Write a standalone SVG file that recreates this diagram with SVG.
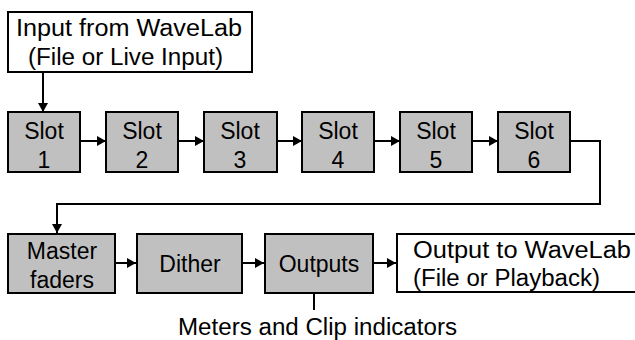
<svg xmlns="http://www.w3.org/2000/svg" width="635" height="340" viewBox="0 0 635 340">
  <style>
    .box { fill: #c0c0c0; stroke: #000; stroke-width: 2; }
    .io { fill: #fff; stroke: #000; stroke-width: 2; }
    .wire { fill: none; stroke: #000; stroke-width: 2; }
    text { font-family: "Liberation Sans", Arial, sans-serif; font-size: 23px; fill: #000; }
    .c { text-anchor: middle; }
  </style>
  <defs>
    <marker id="arrow" markerWidth="10" markerHeight="10" refX="9" refY="5" orient="auto" markerUnits="userSpaceOnUse">
      <path d="M0,0 L9,5 L0,10 Z" fill="#000"/>
    </marker>
  </defs>
  <rect width="635" height="340" fill="#fff"/>

  <!-- connectors -->
  <g id="connectors">
    <line class="wire" x1="43" y1="72" x2="43" y2="112" marker-end="url(#arrow)"/>
    <line class="wire" x1="80" y1="141" x2="106" y2="141" marker-end="url(#arrow)"/>
    <line class="wire" x1="178" y1="141" x2="204" y2="141" marker-end="url(#arrow)"/>
    <line class="wire" x1="277" y1="141" x2="302" y2="141" marker-end="url(#arrow)"/>
    <line class="wire" x1="374" y1="141" x2="400" y2="141" marker-end="url(#arrow)"/>
    <line class="wire" x1="472" y1="141" x2="498" y2="141" marker-end="url(#arrow)"/>
    <polyline class="wire" points="570,141 600,141 600,204 57,204 57,233" marker-end="url(#arrow)"/>
    <line class="wire" x1="115" y1="263" x2="136" y2="263" marker-end="url(#arrow)"/>
    <line class="wire" x1="242" y1="263" x2="264" y2="263" marker-end="url(#arrow)"/>
    <line class="wire" x1="373" y1="263" x2="396" y2="263" marker-end="url(#arrow)"/>
    <line class="wire" x1="314" y1="293" x2="314" y2="310"/>
  </g>

  <g id="input">
    <rect class="io" x="8" y="12" width="244" height="60"/>
    <text x="16" y="36" textLength="226" lengthAdjust="spacingAndGlyphs">Input from WaveLab</text>
    <text x="28" y="65" textLength="195" lengthAdjust="spacingAndGlyphs">(File or Live Input)</text>
  </g>

  <g id="slot1">
    <rect class="box" x="8" y="112" width="72" height="60"/>
    <text class="c" x="44" y="139">Slot</text>
    <text class="c" x="44" y="168">1</text>
  </g>
  <g id="slot2">
    <rect class="box" x="106" y="112" width="72" height="60"/>
    <text class="c" x="142" y="139">Slot</text>
    <text class="c" x="142" y="168">2</text>
  </g>
  <g id="slot3">
    <rect class="box" x="204" y="112" width="73" height="60"/>
    <text class="c" x="240" y="139">Slot</text>
    <text class="c" x="240" y="168">3</text>
  </g>
  <g id="slot4">
    <rect class="box" x="302" y="112" width="72" height="60"/>
    <text class="c" x="338" y="139">Slot</text>
    <text class="c" x="338" y="168">4</text>
  </g>
  <g id="slot5">
    <rect class="box" x="400" y="112" width="72" height="60"/>
    <text class="c" x="436" y="139">Slot</text>
    <text class="c" x="436" y="168">5</text>
  </g>
  <g id="slot6">
    <rect class="box" x="498" y="112" width="72" height="60"/>
    <text class="c" x="534" y="139">Slot</text>
    <text class="c" x="534" y="168">6</text>
  </g>

  <g id="master">
    <rect class="box" x="8" y="234" width="107" height="59"/>
    <text class="c" x="62" y="259">Master</text>
    <text class="c" x="62" y="288">faders</text>
  </g>
  <g id="dither">
    <rect class="box" x="137" y="234" width="105" height="59"/>
    <text class="c" x="190" y="272">Dither</text>
  </g>
  <g id="outputs">
    <rect class="box" x="265" y="234" width="108" height="59"/>
    <text class="c" x="319" y="272">Outputs</text>
  </g>
  <g id="output">
    <rect class="io" x="397" y="234" width="250" height="58"/>
    <text x="413" y="258" textLength="218" lengthAdjust="spacingAndGlyphs">Output to WaveLab</text>
    <text x="413" y="286" textLength="187" lengthAdjust="spacingAndGlyphs">(File or Playback)</text>
  </g>

  <g id="meters">
    <text x="178" y="335" textLength="279" lengthAdjust="spacingAndGlyphs">Meters and Clip indicators</text>
  </g>
</svg>
